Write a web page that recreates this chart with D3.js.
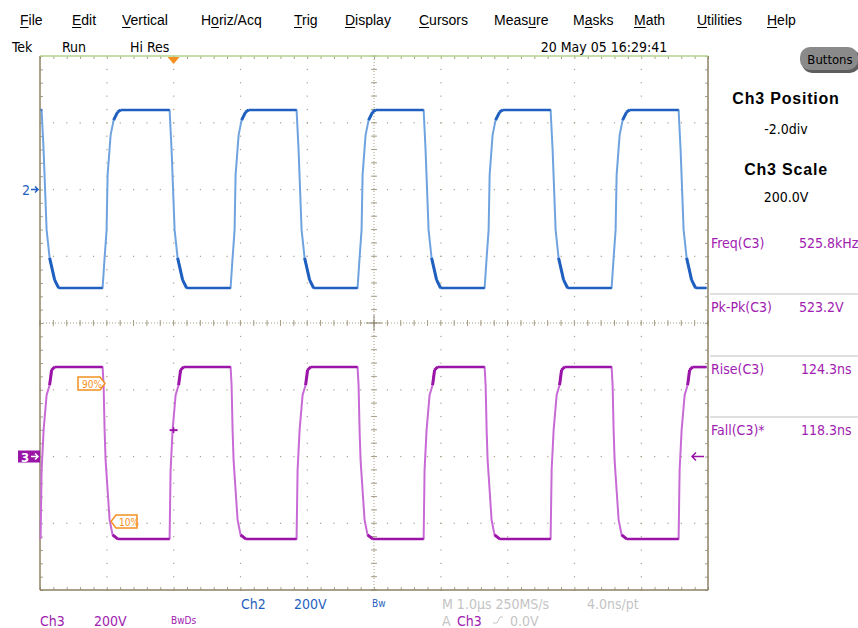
<!DOCTYPE html>
<html>
<head>
<meta charset="utf-8">
<script src="https://cdn.jsdelivr.net/npm/d3@7"></script>
<style>
  body { margin: 0; background: #fff; }
  svg { display: block; }
  .menu { font-family: "Liberation Sans", Arial, sans-serif; font-size: 14px; fill: #000; }
  .tek { font-family: "Liberation Sans Narrow", "DejaVu Sans Condensed", "Liberation Sans", sans-serif; font-size: 14px; }
</style>
</head>
<body>
<div id="chart"></div>
<script>
// menu / header text
const menuItems = ["File", "Edit", "Vertical", "Horiz/Acq", "Trig", "Display", "Cursors", "Measure", "Masks", "Math", "Utilities", "Help"];
const menuX = [20, 72, 122, 201, 294, 345, 419, 494, 573, 634, 697, 767];
const menuUnderline = [0, 0, 0, 1, 0, 0, 0, 4, 1, 0, 0, 0];

const measNames = ["Freq(C3)", "Pk-Pk(C3)", "Rise(C3)", "Fall(C3)*"];
const measValues = ["525.8kHz", "523.2V", "124.3ns", "118.3ns"];

// channel settings (V/div, position in div)
const voltsPerDiv = 200;
const ch2Pos = 2;
const ch3Pos = -2;

// Ch2 trace, time in µs (trigger = 0), volts
const ch2Time = [
  -1.990, -1.976, -1.946, -1.901, -1.856, -1.781, -1.722,
  -1.063, -1.033, -1.003, -0.988, -0.943, -0.898, -0.838, -0.793,
  -0.060, -0.030, 0.015, 0.060, 0.135, 0.195,
  0.853, 0.883, 0.913, 0.928, 0.973, 1.018, 1.078, 1.123,
  1.841, 1.871, 1.916, 1.961, 2.036, 2.096,
  2.754, 2.784, 2.814, 2.829, 2.874, 2.919, 2.979, 3.024,
  3.743, 3.772, 3.817, 3.862, 3.937, 3.997,
  4.656, 4.686, 4.716, 4.731, 4.775, 4.820, 4.880, 4.925,
  5.644, 5.674, 5.719, 5.763, 5.838, 5.898,
  6.557, 6.587, 6.617, 6.632, 6.677, 6.722, 6.781, 6.826,
  7.560, 7.590, 7.635, 7.680, 7.754, 7.814,
  7.979
];
const ch2Volt = [
  238, 238, 118, -121, -205, -271, -295,
  -295, -205, -121, 43, 163, 208, 232, 238,
  238, 118, -121, -205, -271, -295,
  -295, -205, -121, 43, 163, 208, 232, 238,
  238, 118, -121, -205, -271, -295,
  -295, -205, -121, 43, 163, 208, 232, 238,
  238, 118, -121, -205, -271, -295,
  -295, -205, -121, 43, 163, 208, 232, 238,
  238, 118, -121, -205, -271, -295,
  -295, -205, -121, 43, 163, 208, 232, 238,
  238, 118, -121, -205, -271, -295,
  -295
];

// Ch3 trace
const ch3Time = [
  -1.991, -1.976, -1.946, -1.901, -1.856, -1.826, -1.781,
  -1.063, -1.048, -1.033, -1.018, -0.988, -0.958, -0.913, -0.838,
  -0.060, -0.045, -0.015, 0.030, 0.075, 0.105, 0.150,
  0.853, 0.868, 0.883, 0.898, 0.928, 0.958, 1.003, 1.078,
  1.841, 1.856, 1.886, 1.931, 1.976, 2.006, 2.051,
  2.754, 2.769, 2.784, 2.799, 2.829, 2.859, 2.904, 2.979,
  3.743, 3.757, 3.787, 3.832, 3.877, 3.907, 3.952,
  4.656, 4.671, 4.686, 4.701, 4.731, 4.760, 4.805, 4.880,
  5.644, 5.659, 5.689, 5.734, 5.778, 5.808, 5.853,
  6.557, 6.572, 6.587, 6.602, 6.632, 6.662, 6.707, 6.781,
  7.560, 7.575, 7.605, 7.650, 7.695, 7.725, 7.769,
  7.979
];
const ch3Volt = [
  -247, -41, 79, 184, 214, 259, 268,
  268, 214, 79, -11, -101, -190, -235, -247,
  -247, -41, 79, 184, 214, 259, 268,
  268, 214, 79, -11, -101, -190, -235, -247,
  -247, -41, 79, 184, 214, 259, 268,
  268, 214, 79, -11, -101, -190, -235, -247,
  -247, -41, 79, 184, 214, 259, 268,
  268, 214, 79, -11, -101, -190, -235, -247,
  -247, -41, 79, 184, 214, 259, 268,
  268, 214, 79, -11, -101, -190, -235, -247,
  -247, -41, 79, 184, 214, 259, 268,
  268
];

const W = 858, H = 628;
const plot = { left: 40, right: 708, top: 56, bottom: 590 };

const svg = d3.select("#chart").append("svg")
  .attr("width", W).attr("height", H);

const x = d3.scaleLinear().domain([-2, 8]).range([plot.left, plot.right]);
const y = d3.scaleLinear().domain([-4, 4]).range([plot.bottom, plot.top]);

// ---- menu bar
const menu = svg.append("g");
menuItems.forEach((m, i) => {
  const t = menu.append("text").attr("class", "menu").attr("x", menuX[i]).attr("y", 25).text(m);
  // underline the hot-key letter
  const n = t.node();
  const s = n.getStartPositionOfChar(menuUnderline[i]);
  const e = n.getEndPositionOfChar(menuUnderline[i]);
  menu.append("line").attr("x1", s.x).attr("x2", e.x).attr("y1", 27.5).attr("y2", 27.5)
    .attr("stroke", "#000").attr("stroke-width", 1);
});

const hdr = svg.append("g").attr("class", "tek");
hdr.append("text").attr("x", 12).attr("y", 52).text("Tek");
hdr.append("text").attr("x", 62).attr("y", 52).text("Run");
hdr.append("text").attr("x", 130).attr("y", 52).text("Hi Res");
hdr.append("text").attr("x", 604).attr("y", 52).attr("text-anchor", "middle").text("20 May 05 16:29:41");

// Buttons pill
svg.append("rect").attr("x", 802).attr("y", 49).attr("width", 58).attr("height", 24).attr("rx", 10)
  .attr("fill", "#5e5e5e");
svg.append("rect").attr("x", 800).attr("y", 47).attr("width", 58).attr("height", 23).attr("rx", 10)
  .attr("fill", "#8a8a8a");
svg.append("text").attr("class", "tek").attr("x", 830).attr("y", 64).attr("text-anchor", "middle")
  .style("font-size", "13px").attr("fill", "#000").text("Buttons");

// ---- graticule
const grid = svg.append("g");
const gridCol = "#a8a088";
const majorT = d3.range(-1, 8);      // interior vertical lines
const majorD = d3.range(-3, 4);      // interior horizontal lines
const fineT = d3.range(-2, 8.001, 0.2);
const fineD = d3.range(-4, 4.001, 0.2);

majorT.forEach(t => {
  fineD.forEach(d => {
    grid.append("rect").attr("x", x(t) - 0.5).attr("y", y(d) - 0.5).attr("width", 1.2).attr("height", 1.2).attr("fill", gridCol);
  });
});
majorD.forEach(d => {
  fineT.forEach(t => {
    grid.append("rect").attr("x", x(t) - 0.5).attr("y", y(d) - 0.5).attr("width", 1.2).attr("height", 1.2).attr("fill", gridCol);
  });
});

// center axes: dotted line with small ticks
grid.append("line").attr("x1", x(3)).attr("x2", x(3)).attr("y1", plot.top).attr("y2", plot.bottom)
  .attr("stroke", gridCol).attr("stroke-dasharray", "1,2");
grid.append("line").attr("x1", plot.left).attr("x2", plot.right).attr("y1", y(0)).attr("y2", y(0))
  .attr("stroke", gridCol).attr("stroke-dasharray", "1,2");
fineD.forEach(d => {
  grid.append("line").attr("x1", x(3) - 3).attr("x2", x(3) + 3).attr("y1", y(d)).attr("y2", y(d)).attr("stroke", gridCol);
});
fineT.forEach(t => {
  grid.append("line").attr("x1", x(t)).attr("x2", x(t)).attr("y1", y(0) - 3).attr("y2", y(0) + 3).attr("stroke", gridCol);
});
grid.append("line").attr("x1", x(3)).attr("x2", x(3)).attr("y1", y(0) - 8).attr("y2", y(0) + 8).attr("stroke", "#8c8470");
grid.append("line").attr("x1", x(3) - 8).attr("x2", x(3) + 8).attr("y1", y(0)).attr("y2", y(0)).attr("stroke", "#8c8470");

// border ticks
const edgeTicks = (axis, tr) => grid.append("g").attr("transform", tr)
  .call(axis.tickSize(-3).tickFormat(""))
  .call(g => g.select(".domain").remove())
  .call(g => g.selectAll("line").attr("stroke", gridCol));
edgeTicks(d3.axisBottom(x).tickValues(fineT), `translate(0,${plot.bottom})`);
edgeTicks(d3.axisTop(x).tickValues(fineT), `translate(0,${plot.top})`);
edgeTicks(d3.axisLeft(y).tickValues(fineD), `translate(${plot.left},0)`);
edgeTicks(d3.axisRight(y).tickValues(fineD), `translate(${plot.right},0)`);

// frame
grid.append("line").attr("x1", plot.left).attr("x2", plot.left).attr("y1", plot.top).attr("y2", plot.bottom).attr("stroke", "#8c8266").attr("stroke-width", 1.5);
grid.append("line").attr("x1", plot.right).attr("x2", plot.right).attr("y1", plot.top).attr("y2", plot.bottom).attr("stroke", "#8c8266").attr("stroke-width", 1.5);
grid.append("line").attr("x1", plot.left).attr("x2", plot.right).attr("y1", plot.bottom).attr("y2", plot.bottom).attr("stroke", "#8c8266").attr("stroke-width", 1.5);
grid.append("line").attr("x1", plot.left).attr("x2", plot.right).attr("y1", plot.top).attr("y2", plot.top).attr("stroke", "#b3d58c").attr("stroke-width", 1.5);

// ---- traces
const drawTrace = (times, volts, pos, light, dark) => {
  const pts = times.map((t, i) => [x(t), y(volts[i] / voltsPerDiv + pos)]);
  const line = d3.line();
  svg.append("path").attr("d", line(pts)).attr("fill", "none")
    .attr("stroke", light).attr("stroke-width", 2).attr("stroke-linejoin", "round");
  const g = svg.append("g");
  for (let i = 0; i < pts.length - 1; i++) {
    const flat = volts[i] === volts[i + 1];
    const prevFlat = i > 0 && volts[i - 1] === volts[i];
    // settling corners are drawn heavy, leaving a level is not
    const corner = !prevFlat && Math.abs(volts[i]) >= 205 && Math.abs(volts[i + 1]) >= 205;
    if (flat || corner) {
      g.append("line").attr("x1", pts[i][0]).attr("y1", pts[i][1])
        .attr("x2", pts[i + 1][0]).attr("y2", pts[i + 1][1])
        .attr("stroke", dark).attr("stroke-width", flat ? 2.6 : 3);
    }
  }
};
drawTrace(ch2Time, ch2Volt, ch2Pos, "#6fa3e0", "#1f5fbf");
drawTrace(ch3Time, ch3Volt, ch3Pos, "#c86ad6", "#9a14a8");

// ---- markers
const orange = "#f39021";
svg.append("path").attr("d", `M${x(0) - 6},${plot.top + 1} L${x(0) + 6},${plot.top + 1} L${x(0)},${plot.top + 8} Z`).attr("fill", orange);

// Ch2 ground marker
svg.append("text").attr("class", "tek").attr("x", 22).attr("y", y(ch2Pos) + 5).attr("fill", "#1f5fbf").text("2");
svg.append("path").attr("d", `M31,${y(ch2Pos)} L38,${y(ch2Pos)} M35,${y(ch2Pos) - 3} L38,${y(ch2Pos)} L35,${y(ch2Pos) + 3}`)
  .attr("stroke", "#1f5fbf").attr("stroke-width", 1.5).attr("fill", "none");

// Ch3 ground marker
svg.append("rect").attr("x", 18).attr("y", y(ch3Pos) - 6).attr("width", 22).attr("height", 12).attr("fill", "#9a14a8");
svg.append("text").attr("class", "tek").attr("x", 21).attr("y", y(ch3Pos) + 5).attr("fill", "#fff").style("font-size", "13px").style("font-weight", "bold").text("3");
svg.append("path").attr("d", `M31,${y(ch3Pos)} L38,${y(ch3Pos)} M35,${y(ch3Pos) - 3} L38,${y(ch3Pos)} L35,${y(ch3Pos) + 3}`)
  .attr("stroke", "#fff").attr("stroke-width", 1.5).attr("fill", "none");

// trigger point and trigger level arrow
const trigY = y(79 / voltsPerDiv + ch3Pos);
svg.append("line").attr("x1", x(0) - 4).attr("x2", x(0) + 4).attr("y1", trigY).attr("y2", trigY).attr("stroke", "#9a14a8").attr("stroke-width", 2);
svg.append("line").attr("x1", x(0)).attr("x2", x(0)).attr("y1", trigY - 3).attr("y2", trigY + 3).attr("stroke", "#9a14a8").attr("stroke-width", 1.5);
const ly = y(ch3Pos);
svg.append("path").attr("d", `M692,${ly} L704,${ly} M696,${ly - 4} L692,${ly} L696,${ly + 4}`)
  .attr("stroke", "#9a14a8").attr("stroke-width", 1.5).attr("fill", "none");

// 90% / 10% tags
const tag = (x0, y0, w, txt, pointRight) => {
  const h = 13;
  const d = pointRight
    ? `M${x0},${y0} L${x0 + w - 5},${y0} L${x0 + w},${y0 + h / 2} L${x0 + w - 5},${y0 + h} L${x0},${y0 + h} Z`
    : `M${x0 + 5},${y0} L${x0 + w},${y0} L${x0 + w},${y0 + h} L${x0 + 5},${y0 + h} L${x0},${y0 + h / 2} Z`;
  svg.append("path").attr("d", d).attr("fill", "#fff").attr("stroke", orange).attr("stroke-width", 1.5);
  svg.append("text").attr("class", "tek").attr("x", pointRight ? x0 + 4 : x0 + 8).attr("y", y0 + 10.5)
    .style("font-size", "10px").attr("fill", orange).text(txt);
};
tag(78, 377, 27, "90%", true);
tag(111, 515, 26, "10%", false);

// ---- right panel
const panel = svg.append("g").attr("class", "tek").attr("text-anchor", "middle");
panel.append("text").attr("x", 786).attr("y", 104).style("font-family", "'Liberation Sans', Arial, sans-serif").style("font-size", "16px").style("letter-spacing", "0.8px").style("font-weight", "bold").text("Ch3 Position");
panel.append("text").attr("x", 786).attr("y", 134).text("-2.0div");
panel.append("text").attr("x", 786).attr("y", 175).style("font-family", "'Liberation Sans', Arial, sans-serif").style("font-size", "16px").style("letter-spacing", "0.8px").style("font-weight", "bold").text("Ch3 Scale");
panel.append("text").attr("x", 786).attr("y", 202).text("200.0V");

const measCol = "#a020b0";
const measY = [248, 312, 374, 435];
measNames.forEach((m, i) => {
  svg.append("text").attr("class", "tek").attr("x", 711).attr("y", measY[i]).attr("fill", measCol).text(m);
  svg.append("text").attr("class", "tek").attr("x", i < 2 ? 799 : 801).attr("y", measY[i]).attr("fill", measCol).text(measValues[i]);
  if (i > 0) {
    svg.append("line").attr("x1", 710).attr("x2", 858).attr("y1", measY[i] - 18).attr("y2", measY[i] - 18)
      .attr("stroke", "#d6d6d6").attr("stroke-width", 1.5);
  }
});

// ---- bottom status line
const blue = "#1f5fbf";
const status = svg.append("g").attr("class", "tek");
status.append("text").attr("x", 241).attr("y", 609).attr("fill", blue).text("Ch2");
status.append("text").attr("x", 294).attr("y", 609).attr("fill", blue).text("200V");
status.append("text").attr("x", 372).attr("y", 607).attr("fill", blue).style("font-size", "10px").text("Bw");
status.append("text").attr("x", 40).attr("y", 626).attr("fill", measCol).text("Ch3");
status.append("text").attr("x", 94).attr("y", 626).attr("fill", measCol).text("200V");
status.append("text").attr("x", 171).attr("y", 624).attr("fill", measCol).style("font-size", "10px").text("BwDs");
const grey = "#c4c4c4";
status.append("text").attr("x", 442).attr("y", 609).attr("fill", grey).text("M 1.0µs 250MS/s");
status.append("text").attr("x", 587).attr("y", 609).attr("fill", grey).text("4.0ns/pt");
status.append("text").attr("x", 442).attr("y", 626).attr("fill", grey).text("A");
status.append("text").attr("x", 457).attr("y", 626).attr("fill", measCol).text("Ch3");
status.append("path").attr("d", "M493,623 L497,623 L500,617 L503,617").attr("stroke", grey).attr("fill", "none");
status.append("text").attr("x", 510).attr("y", 626).attr("fill", grey).text("0.0V");
</script>
</body>
</html>
